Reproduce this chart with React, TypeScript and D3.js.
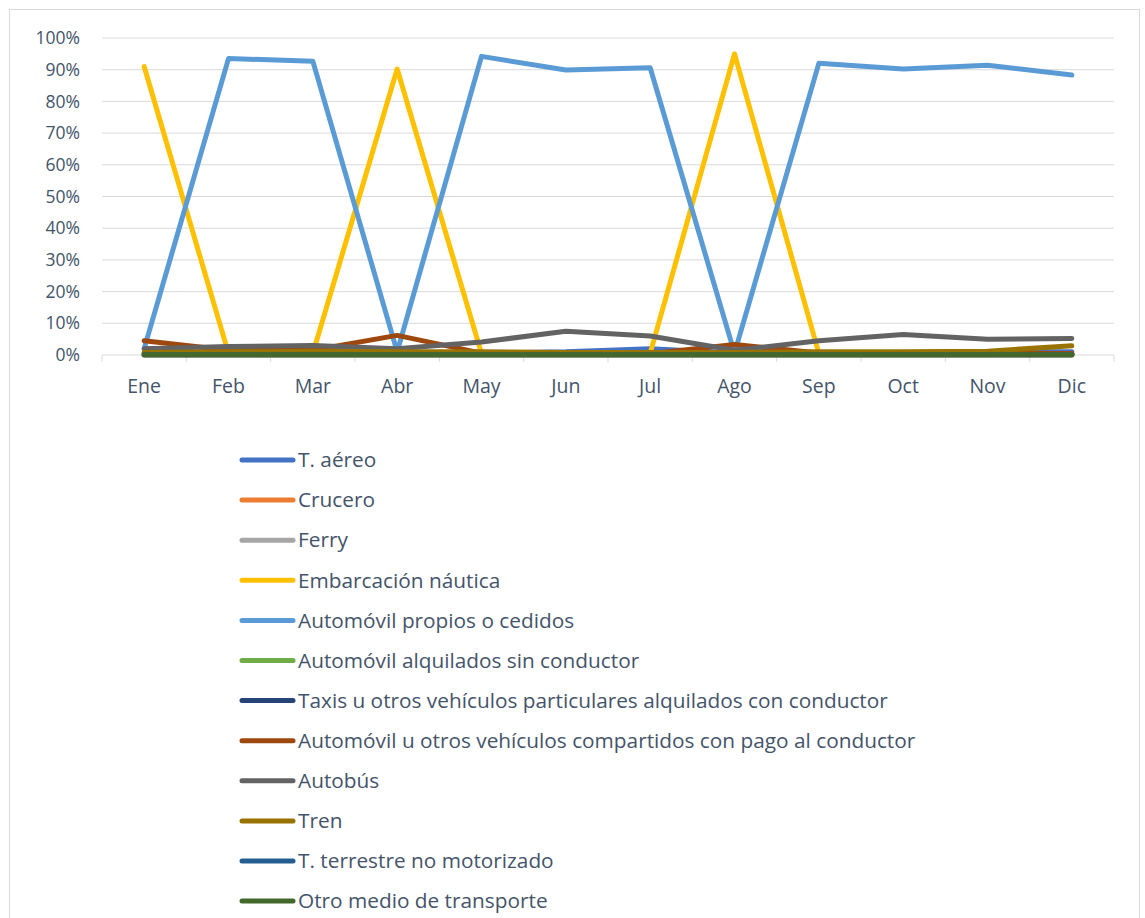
import React from "react";
import * as d3 from "d3";

const months = ["Ene", "Feb", "Mar", "Abr", "May", "Jun", "Jul", "Ago", "Sep", "Oct", "Nov", "Dic"];
const yTicks = [0, 10, 20, 30, 40, 50, 60, 70, 80, 90, 100];

const seriesNames = [
  "T. aéreo",
  "Crucero",
  "Ferry",
  "Embarcación náutica",
  "Automóvil  propios o cedidos",
  "Automóvil alquilados sin conductor",
  "Taxis u otros vehículos particulares alquilados con conductor",
  "Automóvil u otros vehículos compartidos con pago al conductor",
  "Autobús",
  "Tren",
  "T. terrestre no motorizado",
  "Otro medio de transporte",
];
const seriesColors = [
  "#4472C4", "#ED7D31", "#A5A5A5", "#FFC000", "#5B9BD5", "#70AD47",
  "#264478", "#9E480E", "#636363", "#997300", "#255E91", "#43682B",
];

const aereo = [0.8, 0.6, 0.8, 0.6, 0.6, 1.0, 2.0, 0.6, 0.6, 0.6, 1.0, 1.0];
const crucero = [0, 0, 0, 0, 0, 0, 0, 0, 0, 0, 0, 0];
const ferry = [0, 0, 0, 0, 0, 0, 0, 0, 0, 0, 0, 0];
const nautica = [91.0, 0.5, 0.5, 90.2, 0.5, 0.3, 0.5, 95.0, 0.5, 0.3, 0.3, 0.3];
const propios = [2.0, 93.5, 92.7, 1.0, 94.2, 89.9, 90.6, 0.6, 92.0, 90.2, 91.4, 88.3];
const alquilados = [0.3, 0.3, 0.3, 0.3, 0.3, 0.3, 0.3, 0.3, 0.3, 0.3, 0.3, 0.3];
const taxis = [0.4, 0.3, 0.3, 0.3, 0.3, 0.3, 0.3, 0.3, 0.3, 0.3, 0.3, 0.3];
const compartidos = [4.5, 1.5, 1.5, 6.2, 0.6, 0.4, 0.4, 3.3, 0.6, 0.5, 0.5, 0.5];
const autobus = [2.0, 2.7, 3.0, 2.0, 4.1, 7.5, 6.0, 1.5, 4.5, 6.5, 5.0, 5.2];
const tren = [0.8, 1.0, 1.2, 1.0, 1.0, 0.8, 0.8, 0.8, 1.0, 1.0, 1.2, 2.9];
const terrestre = [0.1, 0.1, 0.1, 0.1, 0.1, 0.1, 0.1, 0.1, 0.1, 0.1, 0.1, 0.1];
const otro = [0.1, 0.1, 0.1, 0.1, 0.1, 0.1, 0.1, 0.1, 0.1, 0.1, 0.1, 0.1];

const seriesValues = [aereo, crucero, ferry, nautica, propios, alquilados, taxis, compartidos, autobus, tren, terrestre, otro];

export default function App() {
  const W = 1145, H = 918;
  const left = 102, right = 1114, top = 38, bottom = 355;
  const x = d3.scaleBand<string>().domain(months).range([left, right]);
  const y = d3.scaleLinear().domain([0, 100]).range([bottom, top]);
  const line = d3
    .line<number>()
    .x((_, i) => (x(months[i]) as number) + x.bandwidth() / 2)
    .y((v) => y(v));
  const font = "'Open Sans', 'Liberation Sans', Arial, sans-serif";
  const textColor = "#44546A";
  const tickPositions = months.map((m) => x(m) as number).concat([right]);

  return (
    <svg width={W} height={H} style={{ position: "absolute", left: 0, top: 0 }} fontFamily={font}>
      <rect x={0} y={0} width={W} height={H} fill="#fff" />
      <rect x={9.5} y={9.5} width={1130} height={H + 20} fill="none" stroke="#D9D9D9" strokeWidth={1} />
      {yTicks.map((t) => (
        <g key={t}>
          {t > 0 && <line x1={left} x2={right} y1={y(t)} y2={y(t)} stroke="#D9D9D9" strokeWidth={1} />}
          <text x={80} y={y(t)} dy="0.35em" textAnchor="end" fontSize={17.5} fill={textColor}>
            {t}%
          </text>
        </g>
      ))}
      <line x1={left} x2={right} y1={bottom} y2={bottom} stroke="#D9D9D9" strokeWidth={1} />
      {tickPositions.map((p, i) => (
        <line key={i} x1={p} x2={p} y1={bottom} y2={bottom + 7} stroke="#D9D9D9" strokeWidth={1} />
      ))}
      {months.map((m) => (
        <text key={m} x={(x(m) as number) + x.bandwidth() / 2} y={386} dy="0.35em" textAnchor="middle" fontSize={19.5} fill={textColor}>
          {m}
        </text>
      ))}
      {seriesValues.map((vals, i) => (
        <path key={i} d={line(vals) as string} fill="none" stroke={seriesColors[i]} strokeWidth={5} strokeLinejoin="round" strokeLinecap="round" />
      ))}
      {seriesNames.map((n, i) => {
        const ly = 460 + i * 40.1;
        return (
          <g key={n}>
            <line x1={242} x2={293} y1={ly} y2={ly} stroke={seriesColors[i]} strokeWidth={5} strokeLinecap="round" />
            <text x={298} y={ly} dy="0.35em" fontSize={20.8} fill={textColor}>
              {n}
            </text>
          </g>
        );
      })}
    </svg>
  );
}
